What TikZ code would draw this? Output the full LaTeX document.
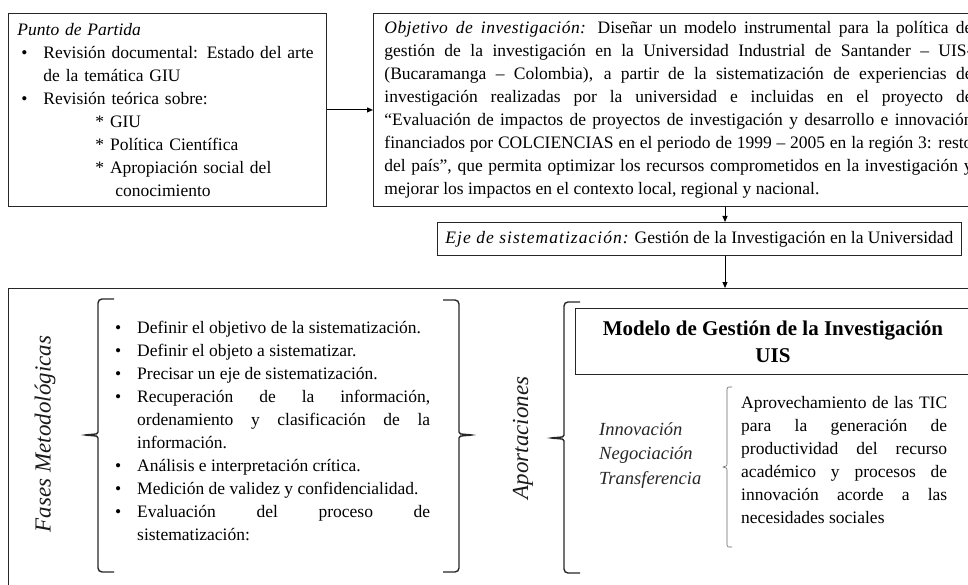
\documentclass[tikz,border=0pt]{standalone}
\usepackage{fontspec}
\setmainfont{Liberation Serif}
\usetikzlibrary{arrows.meta}
\tikzset{>={Triangle[length=6pt,width=5pt]}}
\tikzset{
  box/.style={draw=black!85,line width=0.9pt,inner xsep=9pt,inner ysep=0pt},
  body/.style={font=\fontsize{17.5pt}{23pt}\selectfont,text=black},
  bracket/.style={draw=black!85,line width=1.4pt,rounded corners=4pt},
}
\newcommand\punto[1]{\par\noindent\hangindent=#1\hangafter=1\makebox[#1][l]{\textbullet}}
\newcommand\rotulo[2][0]{{\itshape\addfontfeature{LetterSpace=#1}#2}}

\begin{document}
\begin{tikzpicture}[x=1pt,y=-1pt]
  \useasboundingbox (0,0) rectangle (968,585);
  \clip (0,0) rectangle (968,585);

  % top row
  \node[box,body,anchor=north west,text width=300pt,minimum height=193pt,align=left] (partida) at (8,13) {%
    \rotulo{Punto de Partida}
    \par\noindent\hangindent=26pt\hangafter=1\makebox[26pt][l]{\hspace{4pt}\textbullet}Revisión documental: Estado del arte\newline de la temática GIU
    \par\noindent\makebox[26pt][l]{\hspace{4pt}\textbullet}Revisión teórica sobre:
    \par\noindent\hspace*{78pt}* GIU
    \par\noindent\hspace*{78pt}* Política Científica
    \par\noindent\hspace*{78pt}* Apropiación social del
    \par\noindent\hspace*{98pt}conocimiento\par};
  \node[box,body,anchor=north west,inner xsep=11pt,text width=588pt,minimum height=193pt,align=justify] (objetivo) at (373,13) {%
    \rotulo[2.6]{Objetivo de investigación:} Diseñar un modelo instrumental para la política de\linebreak
    gestión de la investigación en la Universidad Industrial de Santander – UIS-\linebreak
    (Bucaramanga – Colombia), a partir de la sistematización de experiencias de\linebreak
    investigación realizadas por la universidad e incluidas en el proyecto de\linebreak
    “Evaluación de impactos de proyectos de investigación y desarrollo e innovación\linebreak
    financiados por COLCIENCIAS en el periodo de 1999 – 2005 en la región 3: resto\linebreak
    del país”, que permita optimizar los recursos comprometidos en la investigación y\linebreak
    mejorar los impactos en el contexto local, regional y nacional.};
  \draw[->,line width=1pt] (partida) -- (objetivo);

  \node[box,body,anchor=north west,inner xsep=6pt,minimum width=524pt,minimum height=33pt] (eje) at (437,222)
    {\rotulo[6]{Eje de sistematización:} Gestión de la Investigación en la Universidad};
  \node[box,anchor=north west,minimum width=980pt,minimum height=320pt] (base) at (8,288) {};

  \coordinate (eje axis) at (725,0);
  \draw[->,line width=0.9pt] (objetivo.south -| eje axis) -- (eje.north -| eje axis);
  \draw[->,line width=0.9pt] (eje.south -| eje axis) -- (base.north -| eje axis);

  % fases
  \node[rotate=90,font=\fontsize{23pt}{28pt}\selectfont\itshape,text=black!90] (fases) at (45,434) {Fases Metodológicas};
  \node[body,anchor=north west,inner sep=0pt,text width=315pt,align=justify] (pasos) at (115,310) {%
    \punto{22pt}Definir el objetivo de la sistematización.
    \punto{22pt}Definir el objeto a sistematizar.
    \punto{22pt}Precisar un eje de sistematización.
    \punto{22pt}Recuperación de la información,\linebreak ordenamiento y clasificación de la\linebreak información.
    \punto{22pt}Análisis e interpretación crítica.
    \punto{22pt}Medición de validez y confidencialidad.
    \punto{22pt}Evaluación del proceso de\linebreak sistematización:\par};

  \foreach \x/\s/\t/\b/\m in {98/1/299/572/435, 459/-1/300/572/435, 564/1/302/573/438}
    \draw[bracket] ({\x+(\s)*16},\t) -- (\x,\t) -- (\x,\m-7) .. controls (\x,\m-1) .. ({\x-(\s)*15},\m)
      .. controls (\x,\m+1) .. (\x,\m+7) -- (\x,\b) -- ({\x+(\s)*16},\b);

  % aportaciones
  \node[rotate=90,font=\fontsize{23pt}{28pt}\selectfont\itshape,text=black!90] (aportes) at (523,438) {Aportaciones};
  \node[box,anchor=north west,minimum width=395pt,minimum height=66pt,align=center,
        font=\fontsize{21pt}{27pt}\selectfont\bfseries,text=black] (modelo) at (575,308)
    {Modelo de Gestión de la Investigación\\UIS};
  \node[anchor=north west,inner sep=0pt,align=left,font=\fontsize{18.5pt}{24.5pt}\selectfont\itshape,text=black!85] (ejes) at (599,422)
    {Innovación\\Negociación\\Transferencia};
  \draw[black!60,line width=0.6pt,rounded corners=2pt] (732,387) -- (727,387) -- (727,462) .. controls (727,466) .. (722,467)
    .. controls (727,468) .. (727,472) -- (727,547) -- (732,547);
  \node[body,anchor=north west,inner sep=0pt,text width=206pt,align=justify] (tic) at (741,396) {%
    Aprovechamiento de las TIC\linebreak para la generación de\linebreak productividad del recurso\linebreak
    académico y procesos de\linebreak innovación acorde a las\linebreak necesidades sociales};
\end{tikzpicture}
\end{document}
